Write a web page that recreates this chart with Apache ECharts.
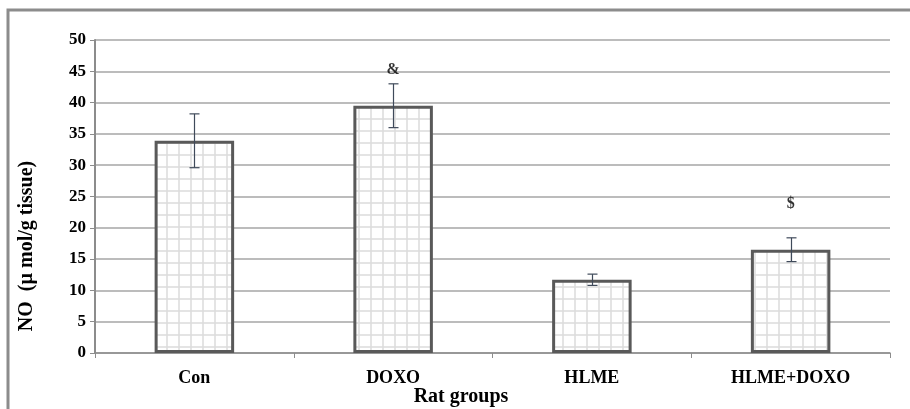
<!DOCTYPE html>
<html>
<head>
<meta charset="utf-8">
<script src="https://cdn.jsdelivr.net/npm/echarts@6/dist/echarts.min.js"></script>
<style>
  html, body { margin: 0; padding: 0; background: #fff; }
  #chart { width: 910px; height: 409px; }
</style>
</head>
<body>
<div id="chart"></div>
<script>
// NO levels per rat group
const groups = ['Con', 'DOXO', 'HLME', 'HLME+DOXO'];
const means = [33.9, 39.5, 11.7, 16.5];
const errs = [4.3, 3.5, 0.9, 1.9];
const marks = ['', '&', '', '$'];
const markY = [null, 45.2, null, 23.8];
const yTicks = { min: 0, max: 50, step: 5 };

const serif = '"Liberation Serif", "DejaVu Serif", serif';

// grid-paper fill for bars
function makePattern() {
  const c = document.createElement('canvas');
  c.width = 12; c.height = 12;
  const ctx = c.getContext('2d');
  ctx.fillStyle = '#fff';
  ctx.fillRect(0, 0, 12, 12);
  ctx.strokeStyle = '#dcdcdc';
  ctx.lineWidth = 1.5;
  ctx.beginPath();
  ctx.moveTo(11, 0); ctx.lineTo(11, 12);
  ctx.moveTo(0, 11); ctx.lineTo(12, 11);
  ctx.stroke();
  return c;
}

const chart = echarts.init(document.getElementById('chart'));

const option = {
  animation: false,
  backgroundColor: '#fff',
  grid: { left: 95, right: 20, top: 40, bottom: 56 },
  graphic: [
    {
      type: 'rect',
      shape: { x: 8, y: 10, width: 1000, height: 500 },
      style: { fill: 'none', stroke: '#8c8c8c', lineWidth: 3 },
      silent: true
    },
    {
      type: 'text',
      x: 27, y: 246,
      rotation: Math.PI / 2,
      style: {
        text: 'NO  (\u00b5 mol/g tissue)',
        font: 'bold 20px ' + serif,
        fill: '#000',
        align: 'center',
        verticalAlign: 'middle'
      }
    },
    {
      type: 'text',
      x: 461, y: 397,
      style: {
        text: 'Rat groups',
        font: 'bold 20px ' + serif,
        fill: '#000',
        align: 'center',
        verticalAlign: 'middle'
      }
    }
  ],
  xAxis: {
    type: 'category',
    data: groups,
    axisLine: { lineStyle: { color: '#8c8c8c', width: 1.5 } },
    axisTick: { show: true, length: 5, lineStyle: { color: '#8c8c8c' } },
    axisLabel: { color: '#000', fontWeight: 'bold', fontSize: 18, fontFamily: serif, margin: 16 }
  },
  yAxis: {
    type: 'value',
    min: yTicks.min,
    max: yTicks.max,
    interval: yTicks.step,
    axisLine: { show: true, lineStyle: { color: '#8c8c8c', width: 2 } },
    axisTick: { show: true, length: 5, lineStyle: { color: '#8c8c8c' } },
    axisLabel: { color: '#000', fontWeight: 'bold', fontSize: 17, fontFamily: serif, margin: 9 },
    splitLine: { lineStyle: { color: '#a6a6a6', width: 1.5 } }
  },
  series: [
    {
      type: 'bar',
      data: means,
      barWidth: '40%',
      itemStyle: {
        color: { image: makePattern(), repeat: 'repeat' },
        borderColor: '#595959',
        borderWidth: 3
      },
      z: 2
    },
    {
      type: 'custom',
      data: means.map((m, i) => [i, m - errs[i], m + errs[i]]),
      renderItem: function (params, api) {
        const lo = api.coord([api.value(0), api.value(1)]);
        const hi = api.coord([api.value(0), api.value(2)]);
        const x = Math.round(lo[0]) + 0.5;
        const cap = 5;
        return {
          type: 'group',
          children: [
            { type: 'line', shape: { x1: x, y1: lo[1], x2: x, y2: hi[1] }, style: { stroke: '#3f4a5a', lineWidth: 1.2 } },
            { type: 'line', shape: { x1: x - cap, y1: lo[1], x2: x + cap, y2: lo[1] }, style: { stroke: '#3f4a5a', lineWidth: 1.2 } },
            { type: 'line', shape: { x1: x - cap, y1: hi[1], x2: x + cap, y2: hi[1] }, style: { stroke: '#3f4a5a', lineWidth: 1.2 } }
          ]
        };
      },
      z: 3
    },
    {
      type: 'scatter',
      symbolSize: 0,
      data: markY.map((v, i) => v == null ? null : { value: [i, v], name: marks[i] }).filter(d => d),
      label: {
        show: true,
        position: 'inside',
        formatter: p => p.name,
        color: '#000',
        fontWeight: 'bold',
        fontSize: 16,
        fontFamily: serif
      },
      z: 4
    }
  ]
};

chart.setOption(option);
</script>
</body>
</html>
